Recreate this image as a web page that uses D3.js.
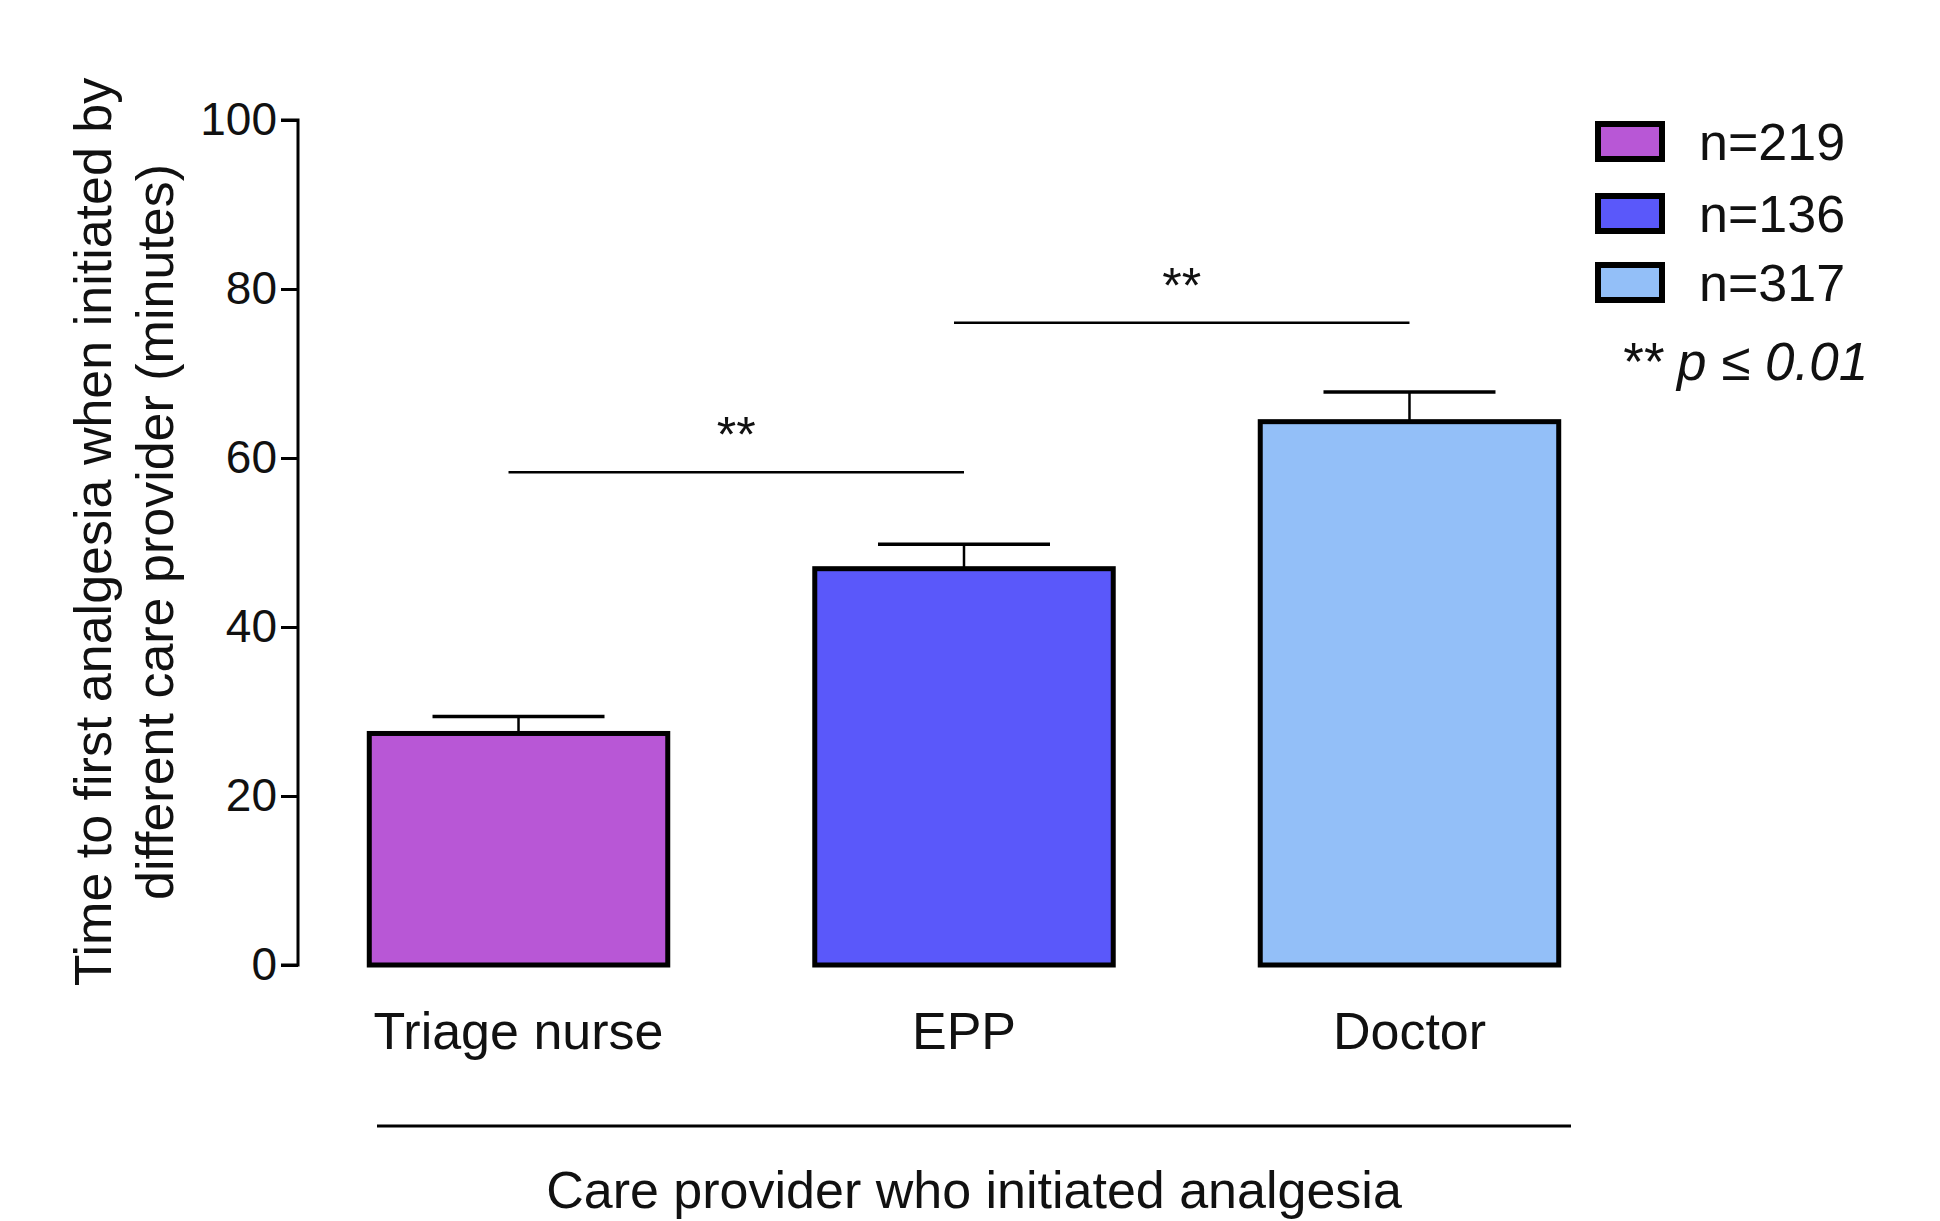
<!DOCTYPE html>
<html><head><meta charset="utf-8">
<script src="https://cdn.jsdelivr.net/npm/d3@7"></script>
<style>body{margin:0;background:#fff;} svg{display:block;font-family:"Liberation Sans",Arial,sans-serif;}</style>
</head><body>
<script>
const categories = ["Triage nurse", "EPP", "Doctor"];
const means = [27.4, 46.9, 64.3];
const errUpper = [29.4, 49.8, 67.8];
const legendLabels = ["n=219", "n=136", "n=317"];
const barColors = ["#B857D6", "#5A58FA", "#93BFF8"];
const yTicks = [0, 20, 40, 60, 80, 100];
const sigPairs = [{from: 0, to: 1, level: 58.3, label: "**"}, {from: 1, to: 2, level: 76.0, label: "**"}];
const yLabelLines = ["Time to first analgesia when initiated by", "different care provider (minutes)"];
const xTitle = "Care provider who initiated analgesia";
const noteText = "** p \u2264 0.01";

const W = 1940, H = 1221;
const svg = d3.select("body").append("svg").attr("width", W).attr("height", H);

const y = d3.scaleLinear().domain([0, 100]).range([965, 120]);
const x = d3.scaleBand().domain(categories).range([298, 1630]).paddingInner(0.33).paddingOuter(0.16);
const FS = 46, FL = 52;

// Y axis
const yAxis = d3.axisLeft(y).tickValues(yTicks).tickSize(17).tickPadding(4);
const gy = svg.append("g").attr("transform", "translate(298,0)").call(yAxis);
gy.select(".domain").attr("stroke", "#000").attr("stroke-width", 3).attr("d", `M-17,${y(100)}H0V${y(0)}H-17`);
gy.selectAll(".tick line").attr("stroke", "#000").attr("stroke-width", 3);
gy.selectAll(".tick text").attr("font-size", FS).attr("fill", "#111").attr("font-family", "Liberation Sans, Arial, sans-serif");

// Bars
const bw = x.bandwidth();
svg.append("g").selectAll("rect").data(categories).join("rect")
  .attr("x", d => x(d)).attr("y", (d, i) => y(means[i]))
  .attr("width", bw).attr("height", (d, i) => y(0) - y(means[i]))
  .attr("fill", (d, i) => barColors[i]).attr("stroke", "#000").attr("stroke-width", 5);

// Error bars
const capW = 172;
const eg = svg.append("g");
categories.forEach((c, i) => {
  const cx = x(c) + bw / 2;
  eg.append("line").attr("x1", cx).attr("x2", cx).attr("y1", y(means[i])).attr("y2", y(errUpper[i]))
    .attr("stroke", "#000").attr("stroke-width", 2.5);
  eg.append("line").attr("x1", cx - capW / 2).attr("x2", cx + capW / 2).attr("y1", y(errUpper[i])).attr("y2", y(errUpper[i]))
    .attr("stroke", "#000").attr("stroke-width", 3.5);
});

// Category labels
svg.append("g").selectAll("text").data(categories).join("text")
  .attr("x", d => x(d) + bw / 2).attr("y", 1049)
  .attr("text-anchor", "middle").attr("font-size", FL).attr("fill", "#111").text(d => d);

// Bottom line + title
svg.append("line").attr("x1", 377).attr("x2", 1571).attr("y1", 1126).attr("y2", 1126).attr("stroke", "#000").attr("stroke-width", 3);
svg.append("text").attr("x", 974).attr("y", 1208).attr("text-anchor", "middle").attr("font-size", FL).attr("fill", "#111").text(xTitle);

// Significance lines
sigPairs.forEach(s => {
  const x1 = x(categories[s.from]) + bw / 2 - 10, x2 = x(categories[s.to]) + bw / 2;
  svg.append("line").attr("x1", x1).attr("x2", x2).attr("y1", y(s.level)).attr("y2", y(s.level)).attr("stroke", "#000").attr("stroke-width", 2.5);
  svg.append("text").attr("x", (x1 + x2) / 2).attr("y", y(s.level) - 20).attr("text-anchor", "middle")
    .attr("font-size", 50).attr("fill", "#111").text(s.label);
});

// Y label
const yl = svg.append("text").attr("transform", "translate(0,532) rotate(-90)").attr("text-anchor", "middle").attr("font-size", FL).attr("fill", "#111");
yLabelLines.forEach((t, i) => yl.append("tspan").attr("x", 0).attr("y", 111 + i * 62).text(t));

// Legend
const lg = svg.append("g");
legendLabels.forEach((t, i) => {
  const ly = [124, 196, 265][i];
  lg.append("rect").attr("x", 1598).attr("y", ly).attr("width", 64).attr("height", 35)
    .attr("fill", barColors[i]).attr("stroke", "#000").attr("stroke-width", 6);
  lg.append("text").attr("x", 1699).attr("y", ly + 36).attr("font-size", FL).attr("fill", "#111").text(t);
});
lg.append("text").attr("x", 1621).attr("y", 380).attr("font-size", 53).attr("font-style", "italic").attr("fill", "#111").text(noteText);
</script>
</body></html>
